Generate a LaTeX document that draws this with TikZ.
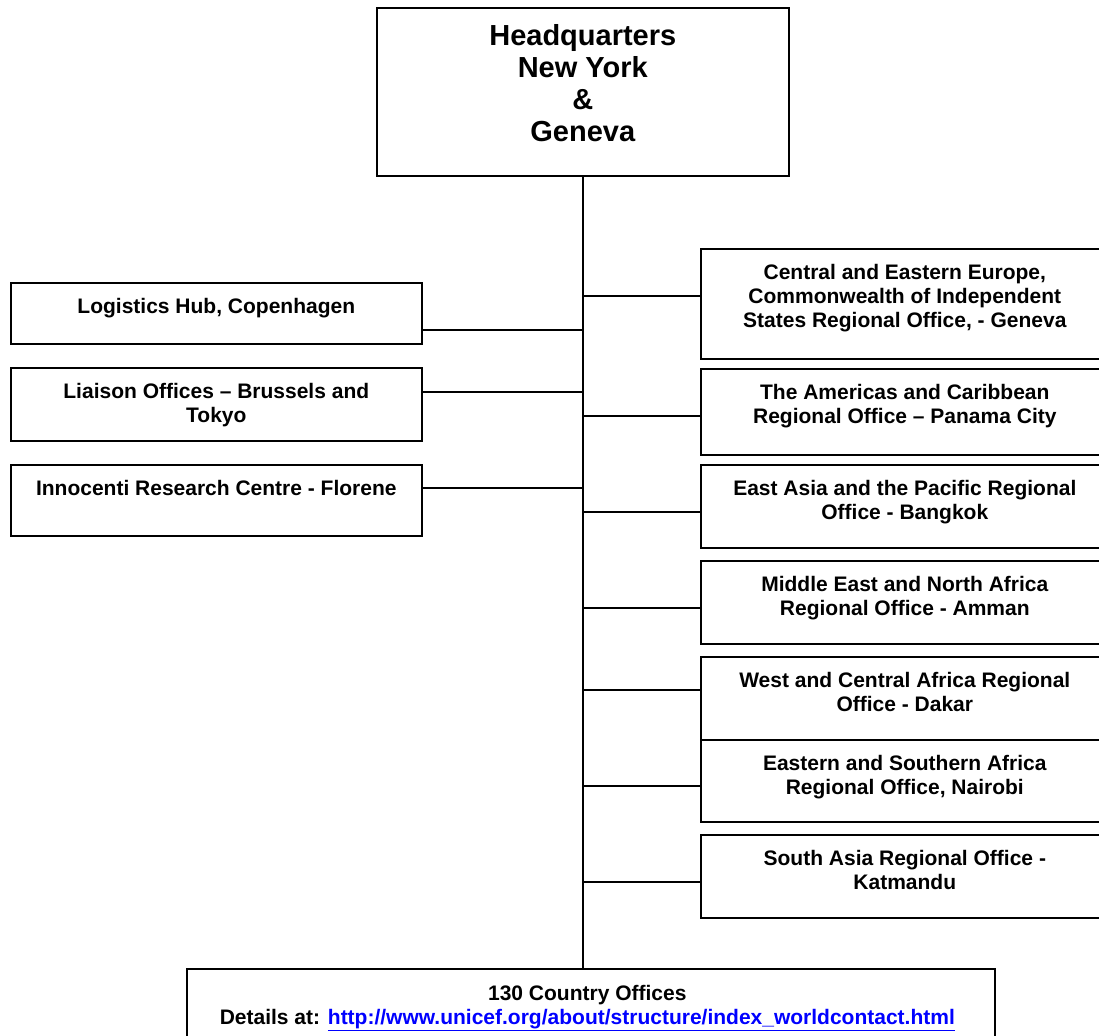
\documentclass[tikz,border=0pt]{standalone}
\usepackage{fontspec}
\setmainfont{Liberation Sans}
\definecolor{linkblue}{RGB}{0,0,255}
\begin{document}
\begin{tikzpicture}[x=1pt,y=-1pt,
  box/.style={draw=black, line width=1.6pt, fill=white, anchor=north west, inner sep=0pt},
  txt/.style={anchor=north, inner sep=0pt, align=center, font=\bfseries\fontsize{21}{24}\selectfont},
  bigtxt/.style={anchor=north, inner sep=0pt, align=center, font=\bfseries\fontsize{29}{32}\selectfont},
  wire/.style={draw=black, line width=1.5pt}]
\useasboundingbox (0,0) rectangle (1099,1035);
\clip (0,0) rectangle (1099,1035);
\fill[white] (0,0) rectangle (1099,1035);

% headquarters
\node[box, minimum width=412pt, minimum height=168pt] (hq) at (376,7) {};
\node[bigtxt] (hqt) at ([yshift=-17.5pt]hq.north) {Headquarters\\New York\\\&\\Geneva};

% bottom box
\node[box, minimum width=808pt, minimum height=90pt] (co) at (186,968) {};
\node[txt] (cot) at ([yshift=-17pt,xshift=-3.5pt]co.north) {130 Country Offices\\Details at: {\color{linkblue}\underline{http://www.unicef.org/about/structure/index\_worldcontact.html}}};

% trunk
\draw[wire] (hq.south) -- (hq.south |- co.north);

% left boxes
\node[box, minimum width=411pt, minimum height=61pt] (log) at (10,282) {};
\node[txt] at ([yshift=-16.5pt]log.north) {Logistics Hub, Copenhagen};
\node[box, minimum width=411pt, minimum height=73pt] (lia) at (10,367) {};
\node[txt] at ([yshift=-16.5pt]lia.north) {Liaison Offices – Brussels and\\Tokyo};
\node[box, minimum width=411pt, minimum height=71pt] (inn) at (10,464) {};
\node[txt] at ([yshift=-16.5pt]inn.north) {Innocenti Research Centre - Florene};

% right boxes
\node[box, minimum width=408pt, minimum height=110pt] (cee) at (700,248) {};
\node[txt] at ([yshift=-16.5pt]cee.north) {Central and Eastern Europe,\\Commonwealth of Independent\\States Regional Office, - Geneva};
\node[box, minimum width=408pt, minimum height=86pt] (ame) at (700,368) {};
\node[txt] at ([yshift=-16.5pt]ame.north) {The Americas and Caribbean\\Regional Office – Panama City};
\node[box, minimum width=408pt, minimum height=83pt] (eap) at (700,464) {};
\node[txt] at ([yshift=-16.5pt]eap.north) {East Asia and the Pacific Regional\\Office - Bangkok};
\node[box, minimum width=408pt, minimum height=83pt] (mena) at (700,560) {};
\node[txt] at ([yshift=-16.5pt]mena.north) {Middle East and North Africa\\Regional Office - Amman};
\node[box, minimum width=408pt, minimum height=83pt] (wca) at (700,656) {};
\node[txt] at ([yshift=-16.5pt]wca.north) {West and Central Africa Regional\\Office - Dakar};
\node[box, minimum width=408pt, minimum height=82pt] (esa) at (700,739) {};
\node[txt] at ([yshift=-16.5pt]esa.north) {Eastern and Southern Africa\\Regional Office, Nairobi};
\node[box, minimum width=408pt, minimum height=83pt] (sa) at (700,834) {};
\node[txt] at ([yshift=-16.5pt]sa.north) {South Asia Regional Office -\\Katmandu};

% junctions on the trunk
\coordinate (jlog) at (hq.south |- 0,330);
\coordinate (jlia) at (hq.south |- 0,392);
\coordinate (jinn) at (hq.south |- 0,488);
\coordinate (jcee) at (hq.south |- 0,296);
\coordinate (jame) at (hq.south |- 0,416);
\coordinate (jeap) at (hq.south |- 0,512);
\coordinate (jmena) at (hq.south |- 0,608);
\coordinate (jwca) at (hq.south |- 0,690);
\coordinate (jesa) at (hq.south |- 0,786);
\coordinate (jsa) at (hq.south |- 0,882);

\draw[wire] (jlog) -- (jlog -| log.east);
\draw[wire] (jlia) -- (jlia -| lia.east);
\draw[wire] (jinn) -- (jinn -| inn.east);
\draw[wire] (jcee) -- (jcee -| cee.west);
\draw[wire] (jame) -- (jame -| ame.west);
\draw[wire] (jeap) -- (jeap -| eap.west);
\draw[wire] (jmena) -- (jmena -| mena.west);
\draw[wire] (jwca) -- (jwca -| wca.west);
\draw[wire] (jesa) -- (jesa -| esa.west);
\draw[wire] (jsa) -- (jsa -| sa.west);
\end{tikzpicture}
\end{document}
